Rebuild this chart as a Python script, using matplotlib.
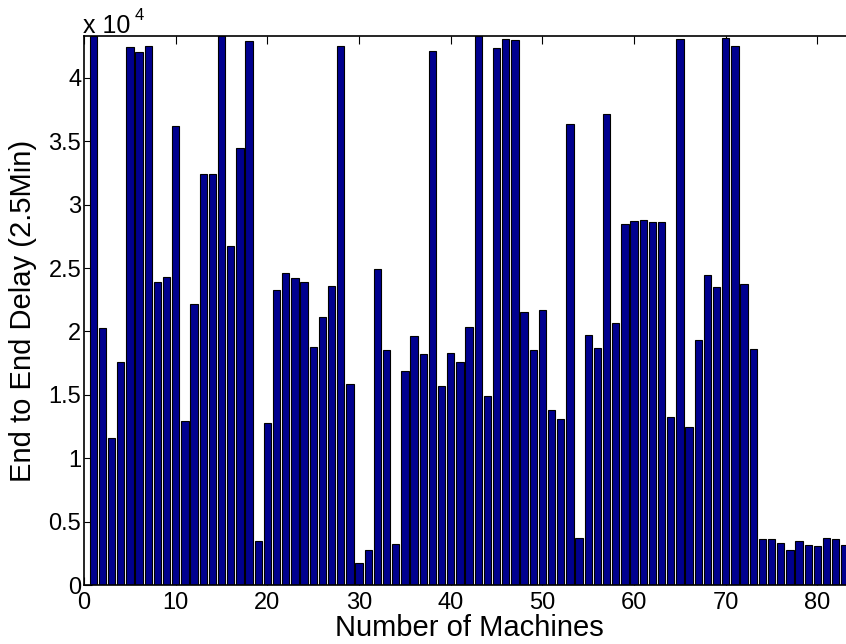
import matplotlib
matplotlib.use("Agg")
import matplotlib.pyplot as plt
from matplotlib.ticker import FixedLocator, FuncFormatter

plt.rcParams["font.family"] = ["Liberation Sans", "DejaVu Sans"]

# End-to-end delay per machine (2.5 minute run)
machines = list(range(1, 84))
delay = [
    43300, 20300, 11620, 17560, 42400, 42030, 42480, 23920, 24290, 36170,
    12930, 22180, 32410, 32390, 43300, 26710, 34460, 42900, 3470, 12780,
    23290, 24630, 24210, 23920, 18740, 21140, 23580, 42530, 15880, 1730,
    2730, 24900, 18530, 3230, 16900, 19640, 18240, 42140, 15720, 18300,
    17610, 20320, 43300, 14930, 42350, 43090, 42980, 21500, 18530, 21710,
    13830, 13090, 36330, 3680, 19720, 18720, 37150, 20660, 28470, 28710,
    28790, 28600, 28650, 13280, 43090, 12490, 19320, 24450, 23500, 43140,
    42510, 23760, 18640, 3630, 3600, 3310, 2790, 3500, 3130, 3100,
    3710, 3630, 3180,
]
ytick_values = [0, 5000, 10000, 15000, 20000, 25000, 30000, 35000, 40000]
xtick_values = [0, 10, 20, 30, 40, 50, 60, 70, 80]

W, H = 846, 644
fig = plt.figure(figsize=(W / 100, H / 100), dpi=100)
left, right, top, bottom = 84, 854, 36, 585
ax = fig.add_axes([left / W, 1 - bottom / H, (right - left) / W, (bottom - top) / H])

ax.bar(machines, delay, width=0.8, color="#00008F", edgecolor="black",
       linewidth=0.8, zorder=2)

ax.set_xlim(0, 84)
ax.set_ylim(0, max(delay))

ax.xaxis.set_major_locator(FixedLocator(xtick_values))
ax.yaxis.set_major_locator(FixedLocator(ytick_values))
ax.yaxis.set_major_formatter(FuncFormatter(lambda v, p: f"{v / 1e4:g}"))

ax.tick_params(direction="in", length=6, width=0.8, labelsize=17,
               top=True, right=True, colors="black")
ax.tick_params(axis="x", pad=5)
ax.tick_params(axis="y", pad=2)
for s in ax.spines.values():
    s.set_linewidth(1.2)
    s.set_zorder(3)

ax.set_ylabel("End to End Delay (2.5Min)", fontsize=21, labelpad=8)
# axis title placed just under the tick labels
fig.text((left + right) / 2 / W, 1 - 636 / H, "Number of Machines",
         fontsize=21, ha="center", va="baseline")

# exponent marker for the y scale
fig.text(83 / W, 1 - 33 / H, "x 10", fontsize=18, ha="left", va="baseline")
fig.text(135 / W, 1 - 20 / H, "4", fontsize=12, ha="left", va="baseline")

fig.savefig("out.png", dpi=100)
